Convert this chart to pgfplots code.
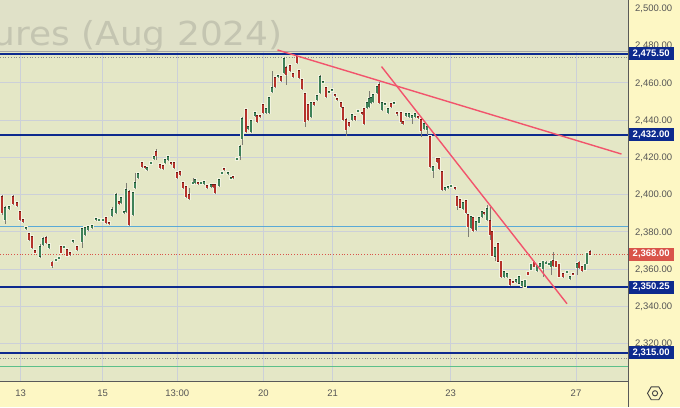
\documentclass[border=0pt]{standalone}
\usepackage{pgfplots}
\pgfplotsset{compat=1.18}
\usepackage{pgfplotstable}
\usepackage{fontspec}
\setmainfont{Liberation Sans}
\newfontfamily\wmfont{DejaVu Sans}
\usetikzlibrary{shapes.geometric}
\definecolor{plotbg}{HTML}{E4E7C6}
\definecolor{topbg}{HTML}{E0E1C8}
\definecolor{panelbg}{HTML}{FDF7C4}
\definecolor{gridc}{HTML}{CCD0D8}
\definecolor{navy}{HTML}{0D2A8E}
\definecolor{upfill}{HTML}{3E8158}
\definecolor{upedge}{HTML}{1E4D30}
\definecolor{dnfill}{HTML}{B5322B}
\definecolor{dnedge}{HTML}{6E1A14}
\definecolor{wickc}{HTML}{7E7E74}
\definecolor{haloc}{HTML}{F2F3E0}
\definecolor{trendc}{HTML}{F2546C}
\definecolor{lblue}{HTML}{5AAAD6}
\definecolor{lastred}{HTML}{D9544A}
\definecolor{labc}{HTML}{555555}
\definecolor{wmc}{HTML}{C4C5B1}
\definecolor{lgreen}{HTML}{5CC08A}

\pgfplotstableread{
x o h l c
2 2398.8 2399.9 2389.2 2390.2
5 2386.5 2394.0 2384.3 2393.0
9 2392.4 2394.0 2391.9 2393.5
13 2398.8 2399.9 2394.5 2395.1
17 2395.6 2396.1 2393.5 2394.0
20 2390.8 2391.3 2386.0 2386.5
23 2386.5 2387.0 2384.9 2385.4
26 2381.6 2382.7 2381.1 2382.2
29 2379.0 2379.5 2375.2 2375.8
32 2377.4 2377.9 2370.9 2371.5
35 2369.9 2370.4 2368.3 2368.8
40 2366.7 2373.6 2366.1 2372.0
43 2373.1 2377.4 2372.5 2376.3
46 2376.8 2377.9 2373.6 2374.1
49 2371.5 2373.6 2370.9 2373.1
52 2363.5 2364.0 2360.7 2361.8
56 2364.5 2365.5 2364.0 2365.1
59 2365.6 2366.6 2365.1 2366.1
61 2372.0 2372.5 2368.3 2368.8
64 2371.5 2372.5 2371.0 2372.0
67 2370.4 2370.9 2366.7 2367.2
70 2368.8 2369.3 2367.2 2367.7
73 2374.7 2375.7 2374.2 2375.2
77 2372.0 2372.5 2369.9 2370.4
82 2374.7 2382.2 2371.5 2381.6
85 2378.4 2382.7 2377.9 2382.2
88 2381.1 2383.2 2380.6 2382.7
92 2382.2 2383.8 2381.7 2383.3
96 2386.5 2387.5 2386.0 2387.0
99 2386.0 2387.0 2385.5 2386.5
103 2386.0 2387.0 2385.5 2386.5
106 2387.6 2388.1 2384.3 2384.9
109 2384.9 2385.4 2383.8 2384.3
112 2388.6 2393.0 2388.1 2391.9
116 2390.2 2401.0 2389.7 2399.9
119 2396.1 2396.6 2394.6 2395.1
121 2395.6 2398.8 2395.1 2398.3
124 2390.2 2391.3 2389.7 2390.8
126 2390.8 2406.3 2390.2 2402.5
129 2401.5 2402.5 2383.3 2383.8
133 2389.2 2401.5 2388.6 2401.0
135 2403.6 2411.7 2403.1 2406.3
138 2408.9 2411.7 2408.4 2411.1
142 2417.1 2417.6 2414.4 2414.9
145 2414.9 2415.4 2413.9 2414.4
147 2413.3 2414.9 2412.8 2414.4
151 2416.8 2417.6 2416.3 2417.1
154 2419.2 2420.8 2418.7 2420.3
156 2422.9 2424.6 2418.7 2420.8
160 2416.0 2416.5 2413.8 2414.4
163 2415.5 2416.0 2413.3 2413.8
165 2417.1 2419.2 2416.6 2418.7
168 2418.7 2420.8 2418.2 2420.3
171 2417.1 2417.6 2416.0 2416.5
174 2417.1 2417.6 2413.9 2414.4
177 2411.7 2412.2 2408.4 2408.9
180 2412.2 2412.7 2410.1 2410.6
183 2406.3 2406.8 2403.1 2403.6
186 2404.2 2404.7 2398.3 2398.8
189 2399.9 2403.6 2397.2 2397.7
193 2406.0 2408.9 2405.5 2406.3
195 2406.3 2408.4 2405.8 2407.9
198 2406.3 2406.8 2405.3 2405.8
201 2406.0 2406.8 2405.5 2406.3
204 2405.8 2407.3 2405.3 2406.8
207 2404.7 2405.2 2403.1 2403.6
211 2404.2 2405.7 2403.7 2405.2
213 2405.2 2405.7 2403.7 2404.2
215 2405.2 2405.7 2400.5 2401.0
219 2404.7 2408.4 2404.2 2407.9
222 2411.4 2412.2 2410.9 2411.7
224 2413.8 2414.3 2412.8 2413.3
228 2411.1 2412.2 2410.6 2411.7
231 2408.7 2409.4 2408.2 2408.9
233 2409.5 2410.0 2408.4 2408.9
237 2418.9 2419.7 2418.4 2419.2
240 2420.8 2426.7 2418.7 2425.6
242 2429.9 2441.7 2426.7 2440.6
246 2445.5 2446.0 2433.1 2433.7
248 2435.3 2436.8 2434.8 2436.3
251 2433.7 2440.1 2433.2 2439.6
255 2442.3 2444.4 2441.8 2443.9
257 2442.3 2442.8 2438.5 2439.0
260 2442.3 2442.8 2441.2 2441.7
263 2448.1 2448.7 2443.3 2443.9
266 2443.9 2446.5 2443.4 2446.0
269 2443.9 2452.4 2443.4 2451.9
272 2455.1 2466.4 2454.6 2457.3
275 2462.6 2463.1 2457.3 2457.8
278 2463.2 2464.2 2462.7 2463.7
281 2463.2 2463.7 2460.5 2461.0
284 2465.3 2473.9 2464.8 2472.8
286 2468.0 2469.1 2458.9 2464.2
290 2469.1 2469.6 2465.9 2466.4
293 2464.8 2465.3 2462.7 2463.2
297 2473.9 2474.4 2470.2 2470.7
299 2466.4 2466.9 2462.1 2462.6
302 2461.6 2462.1 2456.2 2456.7
305 2454.0 2454.6 2436.3 2439.0
308 2448.1 2448.6 2439.6 2440.1
311 2441.7 2449.7 2441.2 2449.2
314 2449.2 2449.7 2447.6 2448.1
317 2450.8 2453.5 2450.3 2453.0
320 2454.6 2464.2 2454.0 2463.2
323 2460.2 2461.0 2459.7 2460.5
326 2457.3 2457.8 2451.9 2452.4
329 2454.9 2455.6 2454.4 2455.1
332 2455.9 2456.7 2455.4 2456.2
335 2453.5 2454.0 2452.5 2453.0
337 2451.4 2451.9 2450.3 2450.8
341 2449.2 2449.7 2446.6 2447.1
343 2446.5 2447.0 2439.6 2440.1
346 2440.1 2441.2 2431.5 2434.7
349 2438.5 2439.0 2436.4 2436.9
352 2440.1 2443.3 2439.6 2442.8
355 2441.7 2442.2 2439.6 2440.1
358 2444.7 2445.4 2444.2 2444.9
362 2443.9 2444.4 2442.8 2443.3
364 2446.0 2446.5 2437.5 2438.0
367 2446.5 2449.7 2446.0 2449.2
369 2447.1 2455.7 2446.6 2451.4
371 2449.2 2452.4 2448.7 2451.9
373 2449.7 2454.0 2449.2 2453.5
377 2454.6 2458.3 2454.1 2457.8
379 2458.9 2460.5 2448.7 2449.2
382 2445.5 2449.7 2445.0 2449.2
385 2448.4 2449.2 2447.9 2448.7
388 2443.9 2446.5 2443.4 2446.0
391 2448.7 2449.2 2446.6 2447.1
394 2448.9 2449.7 2448.4 2449.2
397 2443.9 2444.4 2442.0 2443.3
401 2443.9 2444.4 2438.0 2439.0
403 2439.0 2439.5 2437.5 2438.0
406 2442.3 2443.8 2441.8 2443.3
409 2441.7 2443.8 2441.2 2443.3
412 2441.7 2442.5 2438.0 2442.0
415 2441.7 2443.8 2441.2 2443.3
418 2441.7 2442.2 2440.7 2441.2
421 2440.1 2440.6 2431.0 2434.2
424 2435.3 2438.5 2434.8 2438.0
427 2434.7 2436.8 2432.0 2436.3
430 2431.0 2431.5 2414.4 2414.9
433 2412.8 2415.4 2409.0 2414.9
437 2419.2 2419.7 2417.1 2417.6
439 2419.2 2419.7 2413.3 2413.8
442 2412.2 2412.7 2402.0 2402.5
445 2402.5 2404.1 2402.0 2403.6
448 2403.6 2404.7 2403.1 2404.2
451 2404.4 2405.2 2403.9 2404.7
455 2403.6 2404.1 2402.6 2403.1
457 2398.8 2399.4 2391.9 2394.0
460 2397.2 2397.7 2392.5 2393.0
463 2392.4 2396.1 2391.9 2395.6
466 2396.7 2397.2 2389.7 2390.2
468 2389.2 2389.7 2377.4 2382.7
471 2382.2 2388.6 2381.7 2388.1
473 2387.6 2388.1 2380.1 2380.6
476 2381.1 2385.9 2380.6 2385.4
479 2384.9 2388.1 2384.4 2387.6
482 2388.1 2391.3 2387.6 2390.8
484 2390.2 2390.7 2389.2 2389.7
487 2386.5 2394.5 2386.0 2392.4
490 2385.9 2393.5 2375.8 2378.4
492 2380.0 2380.5 2366.7 2367.2
495 2366.7 2372.0 2364.0 2371.5
498 2373.6 2374.1 2363.5 2364.0
501 2364.0 2364.5 2355.4 2355.9
504 2355.9 2359.1 2355.4 2358.6
507 2355.9 2358.0 2355.4 2357.5
510 2354.3 2354.8 2350.6 2351.6
513 2353.2 2353.7 2352.2 2352.7
516 2353.2 2354.8 2352.7 2354.3
519 2352.2 2356.4 2351.7 2355.9
522 2351.1 2353.7 2350.0 2353.2
525 2350.6 2354.3 2350.1 2353.8
528 2358.1 2358.6 2356.5 2357.0
531 2359.7 2362.9 2359.2 2362.4
534 2363.5 2364.0 2360.8 2361.3
537 2359.1 2362.3 2358.6 2361.8
540 2361.3 2363.4 2360.8 2362.9
543 2360.2 2364.5 2355.9 2364.0
546 2363.2 2364.0 2362.7 2363.5
549 2362.7 2363.4 2362.2 2362.9
551 2361.3 2364.5 2357.0 2364.0
553 2364.5 2369.3 2361.3 2361.8
556 2364.0 2364.5 2360.8 2361.3
559 2362.4 2362.9 2355.4 2355.9
563 2357.5 2358.0 2355.4 2355.9
567 2358.3 2359.1 2357.8 2358.6
570 2354.8 2356.4 2354.3 2355.9
573 2357.5 2358.0 2356.5 2357.0
577 2360.7 2363.4 2357.0 2362.9
579 2363.5 2364.0 2360.2 2360.7
582 2361.3 2361.8 2358.6 2359.1
585 2359.7 2362.9 2359.2 2362.4
587 2362.9 2368.8 2362.4 2368.3
590 2369.3 2369.9 2367.5 2368.0
}\candles

\pgfplotsset{
  candle/.style n args={3}{draw=none, mark=none, forget plot, #1,
    error bars/.cd, y dir=both, y explicit, error mark=none,
    error bar style={draw=#2, line width=#3, line cap=butt}},
}

\begin{document}
\begin{tikzpicture}[x=1pt,y=1pt]
\fill[panelbg] (0,-26) rectangle (680,381);
\begin{axis}[
  at={(0,0)}, anchor=south west,
  scale only axis, width=628pt, height=381pt,
  xmin=0, xmax=628, ymin=2299.8, ymax=2504.45,
  axis background/.style={fill=plotbg},
  axis x line*=bottom, axis y line*=right,
  axis line style={draw=black!65, line width=0.9pt},
  major tick length=0pt,
  xtick={20.7,102.7,177.3,263.3,332.7,450.7,576},
  xticklabels={13,15,13:00,20,21,23,27},
  ytick={2320,2340,2360,2380,2400,2420,2440,2460,2480,2500},
  grid=major,
  major grid style={draw=gridc, line width=0.8pt},
  tick label style={font=\fontsize{9.5}{11}\selectfont, text=labc},
  xticklabel style={anchor=base, yshift=-15.5pt},
  yticklabel style={anchor=base west, inner sep=0pt, xshift=7pt, yshift=-3.4pt},
  /pgf/number format/.cd, fixed, fixed zerofill, precision=2, 1000 sep={,}, assume math mode=true
]
\addplot[draw=none, fill=topbg, forget plot] coordinates {(0,2476.7) (628,2476.7) (628,2504.45) (0,2504.45)} -- cycle;
\node[overlay, anchor=base east, inner sep=0pt, text=wmc, xscale=1.09, font=\wmfont\fontsize{33}{33}\selectfont] at (axis cs:283,2480) {Gold Futures (Aug 2024)};

% horizontal levels
\addplot[black!35, line width=0.6pt] coordinates {(0,2476.8) (628,2476.8)};
\addplot[black!45, dotted, line width=0.7pt] coordinates {(0,2473.6) (628,2473.6)};
\addplot[navy, line width=1.8pt] coordinates {(0,2475.5) (628,2475.5)};
\addplot[navy, line width=1.8pt] coordinates {(0,2432) (628,2432)};
\addplot[navy, line width=1.8pt] coordinates {(0,2350.25) (628,2350.25)};
\addplot[navy, line width=1.8pt] coordinates {(0,2315) (628,2315)};
\addplot[black!45, dotted, line width=0.7pt] coordinates {(0,2311.8) (628,2311.8)};
\addplot[lgreen, line width=0.7pt] coordinates {(0,2307.5) (628,2307.5)};
\addplot[lblue, line width=1pt] coordinates {(0,2382.6) (628,2382.6)};
\addplot[lastred, dotted, line width=0.8pt] coordinates {(0,2368) (628,2368)};

% halo under bodies
\addplot[candle={}{haloc}{3.6pt}]
  table[x=x, y expr={(\thisrow{o}+\thisrow{c})/2}, y error expr={max(abs(\thisrow{c}-\thisrow{o})/2,0.3)+0.8}] {\candles};
% wicks
\addplot[candle={}{wickc}{0.8pt}]
  table[x=x, y expr={(\thisrow{h}+\thisrow{l})/2}, y error expr={(\thisrow{h}-\thisrow{l})/2}] {\candles};
% up bodies
\addplot[candle={x filter/.expression={\thisrow{c}>=\thisrow{o} ? x : nan}}{upedge}{2.8pt}]
  table[x=x, y expr={(\thisrow{o}+\thisrow{c})/2}, y error expr={max(abs(\thisrow{c}-\thisrow{o})/2,0.3)+0.3}] {\candles};
\addplot[candle={x filter/.expression={\thisrow{c}>=\thisrow{o} ? x : nan}}{upfill}{1.9pt}]
  table[x=x, y expr={(\thisrow{o}+\thisrow{c})/2}, y error expr={max(abs(\thisrow{c}-\thisrow{o})/2,0.3)}] {\candles};
% down bodies
\addplot[candle={x filter/.expression={\thisrow{c}<\thisrow{o} ? x : nan}}{dnedge}{2.8pt}]
  table[x=x, y expr={(\thisrow{o}+\thisrow{c})/2}, y error expr={max(abs(\thisrow{c}-\thisrow{o})/2,0.3)+0.3}] {\candles};
\addplot[candle={x filter/.expression={\thisrow{c}<\thisrow{o} ? x : nan}}{dnfill}{1.9pt}]
  table[x=x, y expr={(\thisrow{o}+\thisrow{c})/2}, y error expr={max(abs(\thisrow{c}-\thisrow{o})/2,0.3)}] {\candles};

% trend lines
\addplot[trendc, line width=1.4pt] coordinates {(277.5,2477.6) (621.5,2421.7)};
\addplot[trendc, line width=1.4pt] coordinates {(381.5,2468.7) (567,2341.3)};

\coordinate (L1) at (axis cs:628,2475.5);
\coordinate (L2) at (axis cs:628,2432);
\coordinate (L3) at (axis cs:628,2368);
\coordinate (L4) at (axis cs:628,2350.25);
\coordinate (L5) at (axis cs:628,2315);
\end{axis}
\draw[black!65, line width=0.9pt] (628,0) -- (628,-26);
\tikzset{lab/.style={anchor=west, text=white, font=\bfseries\fontsize{9.5}{11}\selectfont, minimum height=13pt, minimum width=45pt, inner sep=1pt}}
\node[lab, fill=navy] at ([xshift=0.5pt]L1) {2,475.50};
\node[lab, fill=navy] at ([xshift=0.5pt]L2) {2,432.00};
\node[lab, fill=lastred] at ([xshift=0.5pt]L3) {2,368.00};
\node[lab, fill=navy] at ([xshift=0.5pt]L4) {2,350.25};
\node[lab, fill=navy] at ([xshift=0.5pt]L5) {2,315.00};
\node[regular polygon, regular polygon sides=6, draw=black!75, line width=0.9pt, minimum size=15pt, inner sep=0pt] at (655,-12.3) {};
\draw[black!75, line width=0.9pt] (655,-12.3) circle (2.6pt);
\pgfresetboundingbox
\path[use as bounding box] (0,-26) rectangle (680,381);
\end{tikzpicture}
\end{document}
